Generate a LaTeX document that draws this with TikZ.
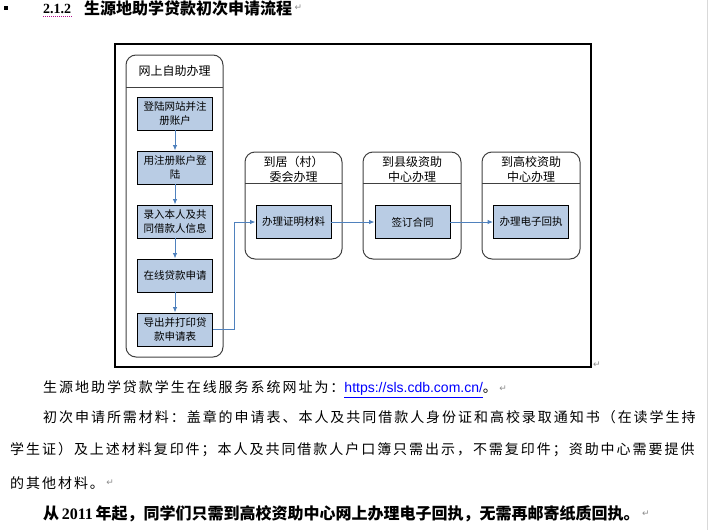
\documentclass[tikz,border=0pt]{standalone}
\usepackage{fontspec}
\setmainfont{Liberation Serif}
\newfontfamily\cjk{Noto Sans CJK SC}
\newfontfamily\cjkbody{Noto Sans CJK SC}[LetterSpace=14]
\newfontfamily\urlfont{Liberation Sans}
\newfontfamily\markfont{DejaVu Sans}
\usetikzlibrary{arrows.meta}
\usetikzlibrary{positioning}
\definecolor{boxblue}{RGB}{185,204,228}
\definecolor{flowblue}{RGB}{79,129,189}
\definecolor{linkblue}{RGB}{0,0,255}
\newcommand{\lane}[5]{ \draw[lanebox] ( #1 , #2 ) rectangle ( #3 , #4 ); \draw[lanebox, sharp corners] ( #1 , #5 ) -- ( #3 , #5 );}
\newcommand{\stepnode}[4]{ \node[stepbox] (#1) at ( #2 , #3 ) {#4};}
\newcommand{\retmark}[3]{ \node[retnode] (#1) at ( #2 , #3 ) {\markfont ↵};}
\tikzset{
  lanebox/.style={draw=black!75, line width=1pt, rounded corners=10pt},
  stepbox/.style={draw=black, line width=0.9pt, fill=boxblue, minimum width=75pt, minimum height=33pt, inner sep=1pt, align=center, font=\cjk\fontsize{10.5}{13.5}\selectfont},
  lanehead/.style={align=center, inner sep=0pt, font=\cjk\fontsize{12}{15}\selectfont},
  flow/.style={draw=flowblue, line width=1pt, -{Latex[length=5.5pt,width=4.5pt]}},
  bodyline/.style={anchor=west, inner sep=0pt, font=\cjkbody\fontsize{14}{16}\selectfont},
  retnode/.style={text=black!45, inner sep=0pt, font=\fontsize{9}{9}\selectfont},
}

\begin{document}
\begin{tikzpicture}[x=1pt, y=-1pt]
        \useasboundingbox (0,0) rectangle (708,530);
        \draw[black!15] (707,0) -- (707,530);
        % heading
        \node[fill=black, minimum size=4pt, inner sep=0pt] (bullet) at (6,8) {};
        \node[anchor=west, inner sep=0pt, font=\bfseries\fontsize{14}{16}\selectfont] (secnum) at (43,9) {2.1.2};
        \node[anchor=west, inner sep=0pt, font=\cjk\bfseries\fontsize{16}{18}\selectfont] (title) at (84,8) {生源地助学贷款初次申请流程};
        \draw[magenta!70!blue, densely dotted, line width=1pt] ([yshift=-3pt]secnum.south west) -- ([yshift=-3pt]secnum.south east);
        \node[retnode, right=2pt of title] (titleret) {\markfont ↵};
        % frame
        \draw[line width=1.2pt] (115,44) rectangle (591,367);
        \retmark{frameret}{597}{365}
        % lanes
        \lane{126}{55}{223}{357}{87}
        \node[lanehead] (onlinehead) at (174.5,71) {网上自助办理};
        \lane{245}{152}{342}{259}{183}
        \node[lanehead] (villagehead) at (293.5,169.5) {到居（村）\\委会办理};
        \lane{363}{152}{461}{259}{183}
        \node[lanehead] (countyhead) at (412,169.5) {到县级资助\\中心办理};
        \lane{482}{152}{580}{259}{183}
        \node[lanehead] (collegehead) at (531,169.5) {到高校资助\\中心办理};
        % steps
        \stepnode{register}{175}{113.5}{登陆网站并注\\册账户}
        \stepnode{login}{175}{167.5}{用注册账户登\\陆}
        \stepnode{entry}{175}{221.5}{录入本人及共\\同借款人信息}
        \stepnode{apply}{175}{275.5}{在线贷款申请}
        \stepnode{export}{175}{329.5}{导出并打印贷\\款申请表}
        \stepnode{proof}{293.5}{222}{办理证明材料}
        \stepnode{contract}{412.5}{222}{签订合同}
        \stepnode{receipt}{531}{222}{办理电子回执}
        \draw[flow] (register) -- (login);
        \draw[flow] (login) -- (entry);
        \draw[flow] (entry) -- (apply);
        \draw[flow] (apply) -- (export);
        \draw[flow] (export.east) -- ++(22,0) |- (proof.west);
        \draw[flow] (proof) -- (contract);
        \draw[flow] (contract) -- (receipt);
        % text below
        \node[bodyline] (urlline) at (43,389) {生源地助学贷款学生在线服务系统网址为：{\urlfont\color{linkblue}\underline{https://sls.cdb.com.cn/}}。};
        \node[retnode, right=2pt of urlline] (urlret) {\markfont ↵};
        \node[bodyline] (needa) at (43,417) {初次申请所需材料：盖章的申请表、本人及共同借款人身份证和高校录取通知书（在读学生持};
        \node[bodyline] (needb) at (10,450) {学生证）及上述材料复印件；本人及共同借款人户口簿只需出示，不需复印件；资助中心需要提供};
        \node[bodyline] (needc) at (10,483) {的其他材料。};
        \node[retnode, right=2pt of needc] (needret) {\markfont ↵};
        \node[anchor=west, inner sep=0pt, font=\cjk\bfseries\fontsize{16}{18}\selectfont] (notice) at (43,514) {从\,{\rmfamily\bfseries 2011}\,年起，同学们只需到高校资助中心网上办理电子回执，无需再邮寄纸质回执。};
        \node[retnode, right=2pt of notice] (noticeret) {\markfont ↵};
    \end{tikzpicture}
\end{document}
